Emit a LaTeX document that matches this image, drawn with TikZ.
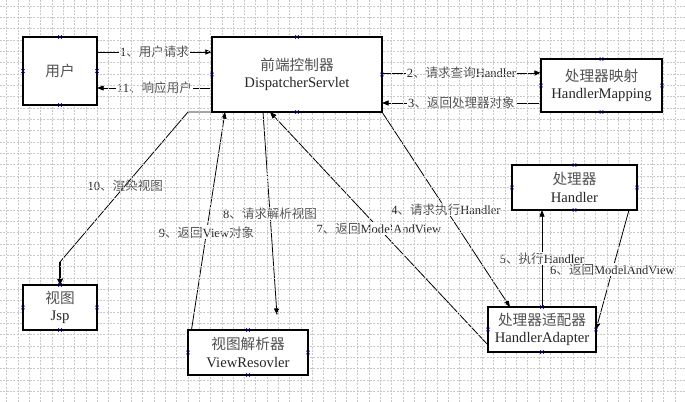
\documentclass[tikz,border=0pt]{standalone}
\usepackage{fontspec}
\setmainfont{Liberation Serif}
\newfontfamily\cjk{Noto Sans CJK SC}
\usetikzlibrary{arrows.meta,calc}
\pgfdeclarelayer{connl}
\pgfdeclarelayer{gridl}
\pgfsetlayers{connl,gridl,main}
\newcommand\zh[1]{{\cjk\color{black!68}#1}}
\begin{document}
\begin{tikzpicture}[x=0.75pt,y=-0.75pt,
  box/.style={draw=black,line width=0.8pt,fill=white,inner sep=0pt,outer sep=0pt,align=center,text=black!85,font=\fontsize{11}{13}\selectfont},
  conn/.style={draw=black,line width=0.6pt,-{Triangle[length=5pt,width=3.8pt]}},
  lbl/.style={fill=white,inner sep=0.8pt,text=black!85,font=\fontsize{9.4}{11}\selectfont},
  lblnf/.style={inner sep=0.8pt,text=black!85,font=\fontsize{9.4}{11}\selectfont},
  xmark/.style={draw=blue!55!black,line width=0.4pt},
  gridline/.style={draw=gray!42,line width=0.4pt,dash pattern=on 1.5pt off 1pt}]
\useasboundingbox (0,0) rectangle (685,402);
\begin{pgfonlayer}{connl}
\fill[white] (0,0) rectangle (685,402);
\end{pgfonlayer}
\begin{pgfonlayer}{gridl}
\foreach \i in {0,...,60} \draw[gridline] (6.5+\i*11.33,0) -- (6.5+\i*11.33,402);
\foreach \j in {0,...,35} \draw[gridline] (0,6+\j*11.33) -- (685,6+\j*11.33);
\end{pgfonlayer}
% boxes
\node[box,minimum width=55.5pt,minimum height=51pt] (user) at (60,71) {\zh{用户}};
\node[box,minimum width=127.5pt,minimum height=56.25pt] (ds) at (297,74.5) {\zh{前端控制器}\\DispatcherServlet};
\node[box,minimum width=90.75pt,minimum height=39.75pt] (hm) at (601.5,85.5) {\zh{处理器映射}\\HandlerMapping};
\node[box,minimum width=93.75pt,minimum height=33.75pt] (h) at (574.5,187.5) {\zh{处理器}\\Handler};
\node[box,minimum width=81pt,minimum height=33.75pt] (ha) at (542,329.5) {\zh{处理器适配器}\\HandlerAdapter};
\node[box,minimum width=90pt,minimum height=33.75pt] (vr) at (248,352.5) {\zh{视图解析器}\\ViewResovler};
\node[box,minimum width=55.5pt,minimum height=33.75pt] (jsp) at (60,307.5) {\zh{视图}\\Jsp};
% connection point marks
\foreach \n in {user,ds,hm,h,ha,vr,jsp}
  \foreach \a in {north,south,east,west}
    \draw[xmark] ($(\n.\a)+(-1.8,-1.8)$) -- ++(3.6,3.6) ($(\n.\a)+(-1.8,1.8)$) -- ++(3.6,-3.6);
% helper levels
\coordinate (y52) at (0,52);
\coordinate (y88) at (0,88);
\coordinate (y73) at (0,73);
\coordinate (y103) at (0,103);
\coordinate (y262) at (0,262);
\coordinate (c8) at ($(vr.north)+(29,-15)$);
\begin{pgfonlayer}{connl}
\draw[conn] (user.east |- y52) -- node[lbl]{1\zh{、用户请求}} (ds.west |- y52);
\draw[conn] (ds.west |- y88) -- node[lbl]{11\zh{、响应用户}} (user.east |- y88);
\draw[conn] (ds.east |- y73) -- node[lbl]{2\zh{、请求查询}Handler} (hm.west |- y73);
\draw[conn] (hm.west |- y103) -- node[lbl]{3\zh{、返回处理器对象}} (ds.east |- y103);
\draw[conn] (ds.south east) -- node[lbl]{4\zh{、请求执行}Handler} ($(ha.north west)+(22,0)$);
\draw[conn] (ha.north) -- node[lbl]{5\zh{、执行}Handler} (ha.north |- h.south);
\draw[conn] ($(h.south east)+(-8,0)$) -- node[lbl]{6\zh{、返回}ModelAndView} (ha.east);
\draw[conn] ($(ha.south west)+(0,-7)$) -- node[lbl]{7\zh{、返回}ModelAndView} ($(ds.south west)+(58,0)$);
\draw[conn] ($(ds.south west)+(51,0)$) -- node[lbl]{8\zh{、请求解析视图}} (c8);
\draw[conn] (vr.west) -- node[lbl]{9\zh{、返回}View\zh{对象}} ($(ds.south west)+(13,0)$);
\draw[line width=0.6pt] (ds.south west) -- ++(-24,0) -- node[lblnf,pos=0.49]{10\zh{、渲染视图}} (jsp.north |- y262) -- (jsp.north);
\draw[line width=1.4pt,-{Triangle[length=5pt,width=4.5pt]}] (jsp.north |- y262) -- (jsp.north);
\end{pgfonlayer}
\end{tikzpicture}
\end{document}
